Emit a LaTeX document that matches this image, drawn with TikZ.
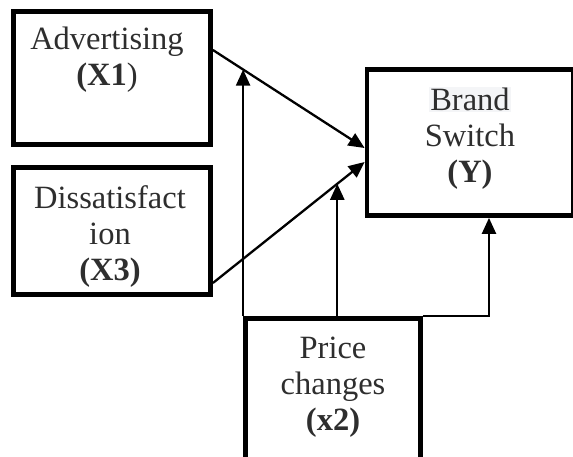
\documentclass[tikz,border=0pt]{standalone}
\usepackage{fontspec}
\setmainfont{Liberation Serif}
\usetikzlibrary{arrows.meta,calc}
\definecolor{txtgray}{HTML}{2E2E2E}
\definecolor{hlgray}{HTML}{F4F5F7}
\tikzset{
  varbox/.style={draw, line width=4.8pt, inner sep=0pt},
  lbl/.style={align=center, inner sep=0pt, text=txtgray, font=\fontsize{32.5}{36}\selectfont},
  link/.style={line width=2.3pt, -{Triangle[length=16pt,width=14pt]}}
}
\begin{document}
\begin{tikzpicture}[x=1pt,y=-1pt]
\useasboundingbox (0,0) rectangle (573,457);
\clip (0,0) rectangle (573,457);
% boxes
\node[varbox, minimum width=197pt, minimum height=133pt] (adv) at (112,78) {};
\node[varbox, minimum width=197pt, minimum height=127pt] (dis) at (112,231) {};
\node[varbox, minimum width=206pt, minimum height=146pt] (brand) at (470,142.5) {};
\node[varbox, minimum width=175pt, minimum height=150pt] (price) at (333,393.5) {};
% labels (base = last line)
\node[lbl, anchor=base] (advtext) at (107,86) {Advertising\\\textbf{(X1})};
\node[lbl, anchor=base] (distext) at (110,280) {Dissatisfact\\ion\\\textbf{(X3)}};
\node[lbl, anchor=base] (brandtext) at (470,183) {{\setlength{\fboxsep}{1pt}\colorbox{hlgray}{Brand}}\\Switch\\\textbf{(Y)}};
\node[lbl, anchor=base] (pricetext) at (333,430) {Price\\changes\\\textbf{(x2)}};
% links
\draw[link] ([yshift=28pt]adv.east) -- coordinate[pos=0.2] (a1) ([yshift=-5.5pt]brand.west);
\draw[link] ([yshift=-52pt]dis.east) -- coordinate[pos=0.82] (a3) ([yshift=-19.5pt]brand.west);
\draw[link] (price.north west) -- (price.north west |- a1);
\draw[link] (a3 |- price.north) -- (a3);
\draw[link] (price.north east) -| ([xshift=19pt]brand.south);
\end{tikzpicture}
\end{document}
